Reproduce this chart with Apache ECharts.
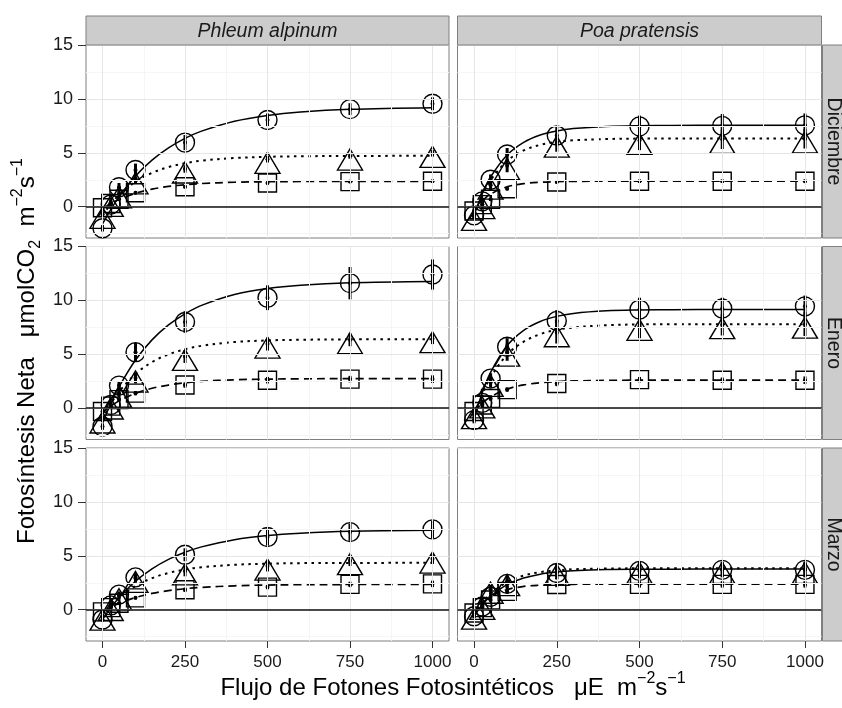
<!DOCTYPE html>
<html>
<head>
<meta charset="utf-8">
<title>Fotosíntesis neta</title>
<script src="https://cdn.jsdelivr.net/npm/echarts@6/dist/echarts.min.js"></script>
<style>
  html, body { margin: 0; padding: 0; background: #ffffff; }
  #chart { width: 842px; height: 708px; }
</style>
</head>
<body>
<div id="chart"></div>
<script>
// Facets
const species = ['Phleum alpinum', 'Poa pratensis'];
const months = ['Diciembre', 'Enero', 'Marzo'];

// Measured light levels and the light levels at which the fitted curves are traced
const ppfd = [0, 25, 50, 100, 250, 500, 750, 1000];
const fitPpfd = [0, 25, 50, 100, 150, 200, 250, 300, 400, 500, 600, 750, 1000];

// Axis ticks and grid lines
const xTicks = [0, 250, 500, 750, 1000];
const yTicks = [0, 5, 10, 15];
const xMinorGrid = [125, 375, 625, 875];
const yMinorGrid = [-2.5, 2.5, 7.5, 12.5];

// Phleum alpinum - Diciembre
const phlDicCircle = [-2.0, 0.2, 1.8, 3.4, 5.95, 8.05, 9.05, 9.55];
const phlDicCircleErr = [0.3, 0.3, 0.4, 0.6, 0.7, 0.6, 0.55, 0.6];
const phlDicTriangle = [-0.7, 0.4, 1.2, 2.5, 3.5, 4.4, 4.7, 4.95];
const phlDicTriangleErr = [0.25, 0.2, 0.3, 0.3, 0.35, 0.3, 0.25, 0.3];
const phlDicSquare = [-0.1, 0.3, 0.7, 1.3, 1.85, 2.2, 2.33, 2.37];
const phlDicSquareErr = [0.1, 0.1, 0.1, 0.15, 0.15, 0.15, 0.15, 0.15];
const phlDicFitSolid = [-1.6, -0.27, 0.91, 2.84, 4.32, 5.46, 6.34, 7.01, 7.93, 8.47, 8.79, 9.04, 9.19];
const phlDicFitDotted = [-0.8, 0.24, 1.08, 2.32, 3.14, 3.68, 4.03, 4.27, 4.52, 4.63, 4.68, 4.71, 4.72];
const phlDicFitDashed = [-0.2, 0.28, 0.67, 1.25, 1.63, 1.88, 2.04, 2.15, 2.27, 2.32, 2.34, 2.36, 2.36];

// Poa pratensis - Diciembre
const poaDicCircle = [-0.8, 0.5, 2.5, 4.85, 6.6, 7.45, 7.5, 7.55];
const poaDicCircleErr = [0.3, 0.3, 0.5, 0.6, 0.9, 1.0, 1.1, 1.1];
const poaDicTriangle = [-0.9, 0.2, 2.0, 3.8, 5.9, 6.15, 6.25, 6.3];
const poaDicTriangleErr = [0.3, 0.3, 0.5, 0.6, 0.8, 0.9, 0.9, 0.9];
const poaDicSquare = [-0.4, 0.2, 0.7, 1.67, 2.3, 2.37, 2.37, 2.37];
const poaDicSquareErr = [0.15, 0.15, 0.15, 0.15, 0.15, 0.15, 0.15, 0.15];
const poaDicFitSolid = [-0.8, 1.23, 2.76, 4.8, 5.97, 6.65, 7.03, 7.25, 7.45, 7.52, 7.54, 7.55, 7.55];
const poaDicFitDotted = [-0.9, 1.04, 2.46, 4.25, 5.22, 5.74, 6.01, 6.16, 6.28, 6.32, 6.33, 6.33, 6.33];
const poaDicFitDashed = [-0.4, 0.54, 1.17, 1.85, 2.14, 2.27, 2.33, 2.35, 2.37, 2.37, 2.37, 2.37, 2.37];

// Phleum alpinum - Enero
const phlEneCircle = [-1.7, 0.3, 2.1, 5.2, 8.0, 10.25, 11.6, 12.4];
const phlEneCircleErr = [0.3, 0.3, 0.4, 0.85, 1.0, 1.15, 1.5, 1.4];
const phlEneTriangle = [-1.0, 0.3, 1.4, 2.8, 4.8, 5.95, 6.35, 6.45];
const phlEneTriangleErr = [0.3, 0.3, 0.4, 0.5, 0.6, 0.6, 0.6, 0.5];
const phlEneSquare = [-0.3, 0.2, 0.8, 1.4, 2.15, 2.6, 2.7, 2.7];
const phlEneSquareErr = [0.15, 0.15, 0.15, 0.2, 0.25, 0.3, 0.3, 0.35];
const phlEneFitSolid = [-1.4, 0.41, 1.97, 4.47, 6.34, 7.73, 8.76, 9.54, 10.55, 11.1, 11.41, 11.64, 11.76];
const phlEneFitDotted = [-1.0, 0.39, 1.52, 3.18, 4.28, 5.0, 5.47, 5.79, 6.14, 6.29, 6.35, 6.39, 6.4];
const phlEneFitDashed = [-0.4, 0.19, 0.67, 1.38, 1.85, 2.15, 2.36, 2.49, 2.64, 2.7, 2.73, 2.74, 2.75];

// Poa pratensis - Enero
const poaEneCircle = [-1.1, 0.5, 2.75, 5.7, 8.1, 9.15, 9.25, 9.45];
const poaEneCircleErr = [0.3, 0.3, 0.5, 0.8, 1.0, 1.1, 1.0, 1.0];
const poaEneTriangle = [-0.6, 0.4, 2.4, 5.2, 7.0, 7.6, 7.75, 7.8];
const poaEneTriangleErr = [0.3, 0.3, 0.5, 0.8, 1.0, 1.1, 1.0, 1.1];
const poaEneSquare = [-0.3, 0.3, 0.9, 1.73, 2.3, 2.65, 2.6, 2.6];
const poaEneSquareErr = [0.15, 0.15, 0.2, 0.2, 0.25, 0.25, 0.25, 0.35];
const poaEneFitSolid = [-1.0, 1.47, 3.32, 5.81, 7.23, 8.05, 8.52, 8.79, 9.03, 9.11, 9.14, 9.15, 9.15];
const poaEneFitDotted = [-0.8, 1.29, 2.86, 4.97, 6.17, 6.87, 7.27, 7.49, 7.7, 7.77, 7.79, 7.8, 7.8];
const poaEneFitDashed = [-0.3, 0.48, 1.05, 1.77, 2.16, 2.36, 2.47, 2.53, 2.58, 2.6, 2.6, 2.6, 2.6];

// Phleum alpinum - Marzo
const phlMarCircle = [-0.9, 0.4, 1.4, 3.0, 5.1, 6.75, 7.2, 7.45];
const phlMarCircleErr = [0.2, 0.2, 0.3, 0.4, 0.6, 0.8, 0.8, 0.8];
const phlMarTriangle = [-0.6, 0.3, 1.3, 2.9, 3.6, 4.05, 4.55, 4.7];
const phlMarTriangleErr = [0.2, 0.2, 0.3, 0.4, 0.5, 0.5, 0.5, 0.45];
const phlMarSquare = [-0.2, 0.2, 0.6, 1.1, 1.85, 2.1, 2.35, 2.4];
const phlMarSquareErr = [0.1, 0.1, 0.1, 0.15, 0.2, 0.2, 0.25, 0.3];
const phlMarFitSolid = [-0.9, 0.18, 1.12, 2.64, 3.79, 4.67, 5.33, 5.83, 6.5, 6.89, 7.1, 7.27, 7.37];
const phlMarFitDotted = [-0.6, 0.33, 1.09, 2.2, 2.93, 3.41, 3.73, 3.94, 4.17, 4.27, 4.32, 4.34, 4.35];
const phlMarFitDashed = [-0.2, 0.23, 0.59, 1.13, 1.51, 1.77, 1.95, 2.07, 2.22, 2.29, 2.32, 2.34, 2.35];

// Poa pratensis - Marzo
const poaMarCircle = [-0.6, 0.3, 1.2, 2.4, 3.4, 3.6, 3.7, 3.7];
const poaMarCircleErr = [0.2, 0.3, 0.4, 0.5, 0.6, 0.7, 0.7, 0.7];
const poaMarTriangle = [-0.5, 0.4, 1.9, 2.6, 3.55, 3.75, 3.75, 3.75];
const poaMarTriangleErr = [0.2, 0.3, 0.4, 0.6, 0.7, 0.7, 0.7, 0.7];
const poaMarSquare = [-0.3, 0.2, 0.9, 1.7, 2.34, 2.35, 2.35, 2.35];
const poaMarSquareErr = [0.1, 0.15, 0.15, 0.2, 0.25, 0.3, 0.3, 0.3];
const poaMarFitSolid = [-0.6, 0.46, 1.26, 2.33, 2.94, 3.3, 3.5, 3.61, 3.72, 3.75, 3.76, 3.77, 3.77];
const poaMarFitDotted = [-0.6, 0.59, 1.47, 2.57, 3.17, 3.49, 3.65, 3.75, 3.82, 3.84, 3.85, 3.85, 3.85];
const poaMarFitDashed = [-0.3, 0.61, 1.21, 1.87, 2.16, 2.28, 2.34, 2.36, 2.38, 2.38, 2.38, 2.38, 2.38];

// Panels in reading order (row by row)
const panels = [
  { row: 0, col: 0, groups: [
    [phlDicCircle, phlDicCircleErr, phlDicFitSolid],
    [phlDicTriangle, phlDicTriangleErr, phlDicFitDotted],
    [phlDicSquare, phlDicSquareErr, phlDicFitDashed]] },
  { row: 0, col: 1, groups: [
    [poaDicCircle, poaDicCircleErr, poaDicFitSolid],
    [poaDicTriangle, poaDicTriangleErr, poaDicFitDotted],
    [poaDicSquare, poaDicSquareErr, poaDicFitDashed]] },
  { row: 1, col: 0, groups: [
    [phlEneCircle, phlEneCircleErr, phlEneFitSolid],
    [phlEneTriangle, phlEneTriangleErr, phlEneFitDotted],
    [phlEneSquare, phlEneSquareErr, phlEneFitDashed]] },
  { row: 1, col: 1, groups: [
    [poaEneCircle, poaEneCircleErr, poaEneFitSolid],
    [poaEneTriangle, poaEneTriangleErr, poaEneFitDotted],
    [poaEneSquare, poaEneSquareErr, poaEneFitDashed]] },
  { row: 2, col: 0, groups: [
    [phlMarCircle, phlMarCircleErr, phlMarFitSolid],
    [phlMarTriangle, phlMarTriangleErr, phlMarFitDotted],
    [phlMarSquare, phlMarSquareErr, phlMarFitDashed]] },
  { row: 2, col: 1, groups: [
    [poaMarCircle, poaMarCircleErr, poaMarFitSolid],
    [poaMarTriangle, poaMarTriangleErr, poaMarFitDotted],
    [poaMarSquare, poaMarSquareErr, poaMarFitDashed]] }
];

// ---- layout & style ----
const FONT = '"Liberation Sans", Arial, Helvetica, sans-serif';
const colLeft = [86, 457.5];
const colWidth = [363, 364];
const rowTop = [45, 246.5, 448];
const rowHeight = 193;
const stripTop = 16;
const stripH = 29;
const stripRightX = 822.5;

const markers = [
  { symbol: 'circle', size: 19, offset: [0, 0] },
  { symbol: 'triangle', size: [25, 21], offset: [0, 3.5] },
  { symbol: 'rect', size: 18, offset: [0, 0] }
];
const fitStyles = [
  { type: 'solid', width: 1.5 },
  { type: [2.5, 4.5], width: 2 },
  { type: [8, 5], width: 1.7 }
];

const grids = [], xAxes = [], yAxes = [], series = [];

panels.forEach((p, i) => {
  const bottomRow = p.row === months.length - 1;
  const leftCol = p.col === 0;
  grids.push({
    left: colLeft[p.col], top: rowTop[p.row],
    width: colWidth[p.col], height: rowHeight,
    show: true, backgroundColor: '#ffffff',
    borderColor: '#7f7f7f', borderWidth: 1
  });
  xAxes.push({
    type: 'value', gridIndex: i, min: -50, max: 1050,
    axisLine: { show: false, onZero: false },
    splitLine: { show: false },
    axisTick: { show: bottomRow, length: 7, customValues: xTicks,
      lineStyle: { color: '#333333', width: 1 } },
    axisLabel: { show: bottomRow, customValues: xTicks, margin: 13,
      formatter: v => String(v),
      color: '#1a1a1a', fontSize: 17, fontFamily: FONT }
  });
  yAxes.push({
    type: 'value', gridIndex: i, min: -2.9, max: 15,
    axisLine: { show: false, onZero: false },
    splitLine: { show: false },
    axisTick: { show: leftCol, length: 8, customValues: yTicks,
      lineStyle: { color: '#333333', width: 1 } },
    axisLabel: { show: leftCol, customValues: yTicks, margin: 13,
      formatter: v => String(v),
      color: '#1a1a1a', fontSize: 18, fontFamily: FONT }
  });

  // background grid and the zero reference line
  const gridLines = [];
  xMinorGrid.forEach(v => gridLines.push({ xAxis: v, lineStyle: { color: '#f5f5f5', width: 1, type: 'solid' } }));
  yMinorGrid.forEach(v => gridLines.push({ yAxis: v, lineStyle: { color: '#f5f5f5', width: 1, type: 'solid' } }));
  xTicks.forEach(v => gridLines.push({ xAxis: v, lineStyle: { color: '#e6e6e6', width: 1, type: 'solid' } }));
  yTicks.forEach(v => gridLines.push({ yAxis: v, lineStyle: { color: '#e6e6e6', width: 1, type: 'solid' } }));
  gridLines.push({ yAxis: 0, lineStyle: { color: '#111111', width: 1.5, type: 'solid' } });
  series.push({
    type: 'line', xAxisIndex: i, yAxisIndex: i, data: [], z: 0, silent: true,
    markLine: { silent: true, symbol: 'none', label: { show: false },
      animation: false, data: gridLines }
  });

  p.groups.forEach((g, k) => {
    const [vals, errs, fit] = g;
    // fitted light-response curve
    series.push({
      type: 'line', xAxisIndex: i, yAxisIndex: i, z: 2,
      smooth: 0.35, showSymbol: false, silent: true,
      data: fitPpfd.map((x, j) => [x, fit[j]]),
      lineStyle: { color: '#000000', width: fitStyles[k].width, type: fitStyles[k].type }
    });
    // standard-error bars with the mean as a small dot
    series.push({
      type: 'custom', xAxisIndex: i, yAxisIndex: i, z: 3, silent: true,
      data: ppfd.map((x, j) => [x, vals[j] - errs[j], vals[j] + errs[j], vals[j]]),
      encode: { x: 0, y: [1, 2] },
      renderItem: (params, api) => {
        const lo = api.coord([api.value(0), api.value(1)]);
        const hi = api.coord([api.value(0), api.value(2)]);
        const mid = api.coord([api.value(0), api.value(3)]);
        return {
          type: 'group',
          children: [
            { type: 'line', shape: { x1: lo[0], y1: lo[1], x2: hi[0], y2: hi[1] },
              style: { stroke: '#000000', lineWidth: 3 } },
            { type: 'circle', shape: { cx: mid[0], cy: mid[1], r: 2 },
              style: { fill: '#000000' } }
          ]
        };
      }
    });
    // hollow markers
    series.push({
      type: 'scatter', xAxisIndex: i, yAxisIndex: i, z: 4, silent: true,
      symbol: markers[k].symbol, symbolSize: markers[k].size,
      symbolOffset: markers[k].offset,
      data: ppfd.map((x, j) => [x, vals[j]]),
      itemStyle: { color: 'rgba(0,0,0,0)', borderColor: '#000000', borderWidth: 1.4, opacity: 1 }
    });
  });
});

// strips, facet labels and axis titles
const graphics = [];
species.forEach((name, c) => {
  graphics.push({
    type: 'rect', z: 10,
    shape: { x: colLeft[c], y: stripTop, width: colWidth[c], height: stripH },
    style: { fill: '#cccccc', stroke: '#7f7f7f', lineWidth: 1 }
  });
  graphics.push({
    type: 'text', z: 11,
    x: colLeft[c] + colWidth[c] / 2, y: stripTop + stripH / 2 + 1,
    style: { text: name, fill: '#1a1a1a', font: 'italic 19.5px ' + FONT,
      align: 'center', verticalAlign: 'middle', textAlign: 'center', textVerticalAlign: 'middle' }
  });
});
months.forEach((name, r) => {
  graphics.push({
    type: 'rect', z: 10,
    shape: { x: stripRightX, y: rowTop[r], width: 24, height: rowHeight },
    style: { fill: '#cccccc', stroke: '#7f7f7f', lineWidth: 1 }
  });
  graphics.push({
    type: 'text', z: 11,
    x: stripRightX + 11, y: rowTop[r] + rowHeight / 2,
    rotation: -Math.PI / 2,
    style: { text: name, fill: '#1a1a1a', font: '19.5px ' + FONT,
      align: 'center', verticalAlign: 'middle', textAlign: 'center', textVerticalAlign: 'middle' }
  });
});

const titleRich = {
  a: { fontSize: 24, fontFamily: FONT, color: '#000000', lineHeight: 34, verticalAlign: 'middle' },
  sup: { fontSize: 16, fontFamily: FONT, color: '#000000', lineHeight: 16, verticalAlign: 'top' },
  sub: { fontSize: 16, fontFamily: FONT, color: '#000000', lineHeight: 16, verticalAlign: 'bottom' }
};
graphics.push({
  type: 'text', z: 11, x: 453, y: 688,
  style: {
    text: '{a|Flujo de Fotones Fotosintéticos   μE  m}{sup|−2}{a|s}{sup|−1}',
    rich: titleRich,
    align: 'center', verticalAlign: 'middle', textAlign: 'center', textVerticalAlign: 'middle'
  }
});
graphics.push({
  type: 'text', z: 11, x: 27, y: 351, rotation: Math.PI / 2,
  style: {
    text: '{a|Fotosíntesis Neta   μmolCO}{sub|2}{a|  m}{sup|−2}{a|s}{sup|−1}',
    rich: titleRich,
    align: 'center', verticalAlign: 'middle', textAlign: 'center', textVerticalAlign: 'middle'
  }
});

const chart = echarts.init(document.getElementById('chart'), null, { renderer: 'canvas' });
chart.setOption({
  animation: false,
  backgroundColor: '#ffffff',
  grid: grids,
  xAxis: xAxes,
  yAxis: yAxes,
  series: series,
  graphic: { elements: graphics }
});
</script>
</body>
</html>
